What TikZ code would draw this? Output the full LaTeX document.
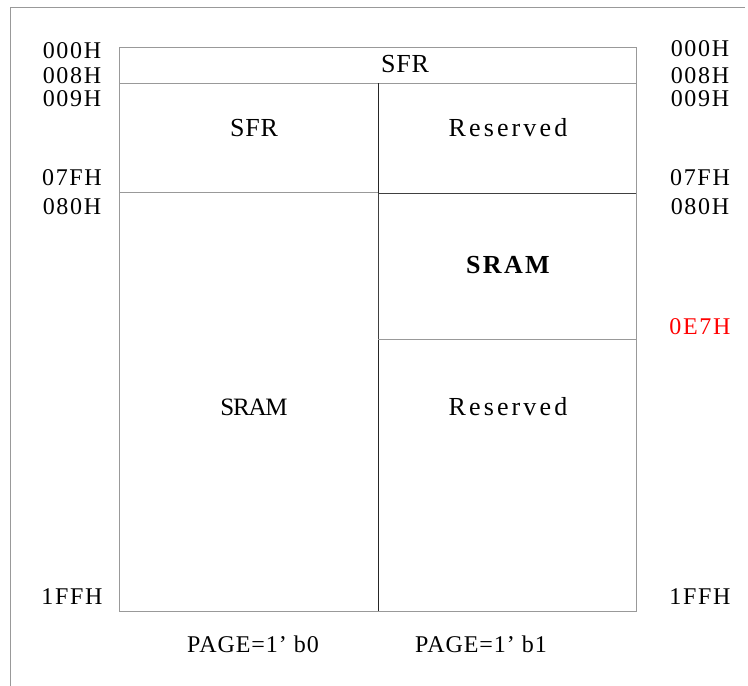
\documentclass[tikz,border=0pt]{standalone}
\usepackage{fontspec}
\setmainfont{Liberation Serif}
\usepackage{tikz}

\begin{document}
\begin{tikzpicture}[x=1pt,y=-1pt,
    addr/.style={inner sep=0pt,font=\fontsize{24}{26}\selectfont\addfontfeature{LetterSpace=7}},
    cell/.style={font=\fontsize{26}{28}\selectfont\addfontfeature{LetterSpace=3}},
    resv/.style={font=\fontsize{26}{28}\selectfont\addfontfeature{LetterSpace=12}},
    page/.style={font=\fontsize{24}{28}\selectfont\addfontfeature{LetterSpace=4}},
    line/.style={gray!80,line width=1pt}]
    \useasboundingbox (0,0) rectangle (748,686);
    %frame around the map
    \draw [gray!80,line width=1pt] (10,686) -- (10,7) -- (745,7);
    %the memory map itself
    \draw [line] (119,47) rectangle (636,611);
    \draw [line] (119,83) -- (636,83);
    \draw [line] (119,192) -- (378,192);
    \draw [black!85,line width=.8pt] (378,83) -- (378,611);
    \draw [line] (378,193) rectangle (636,339);
    \draw [black!75,line width=1pt] (378,339) -- (378,193) -- (636,193);
    %cells
    \node [cell] (sfrtop) at (405,64) {SFR};
    \node [cell] (sfr) at (254,128) {SFR};
    \node [resv] (resvtop) at (508,128) {Reserved};
    \node [cell,font=\fontsize{26}{28}\selectfont\bfseries\addfontfeature{LetterSpace=9}] (sramhi) at (508,265) {SRAM};
    \node [cell,font=\fontsize{25}{28}\selectfont\addfontfeature{LetterSpace=-5}] (sram) at (254,407) {SRAM};
    \node [resv] (resv) at (508,407) {Reserved};
    %addresses, left side
    \node [addr] (l000) at (72,51) {000H};
    \node [addr] (l008) at (72,76) {008H};
    \node [addr] (l009) at (72,99) {009H};
    \node [addr] (l07f) at (72,178) {07FH};
    \node [addr] (l080) at (72,207) {080H};
    \node [addr] (l1ff) at (72,597) {1FFH};
    %addresses, right side
    \node [addr] (r000) at (700,49) {000H};
    \node [addr] (r008) at (700,76) {008H};
    \node [addr] (r009) at (700,99) {009H};
    \node [addr] (r07f) at (700,178) {07FH};
    \node [addr] (r080) at (700,207) {080H};
    \node [addr,red] (r0e7) at (700,327) {0E7H};
    \node [addr] (r1ff) at (700,597) {1FFH};
    %page select
    \node [page] (page0) at (253,644) {PAGE=1’ b0};
    \node [page] (page1) at (481,644) {PAGE=1’ b1};
\end{tikzpicture}
\end{document}
